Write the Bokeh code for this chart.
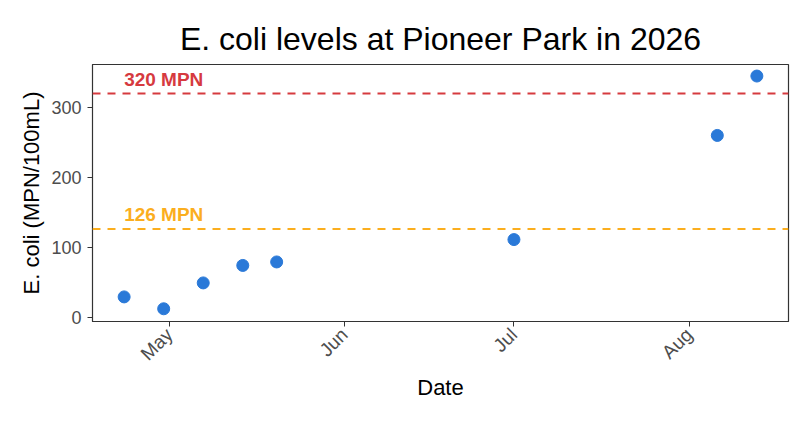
import math
from datetime import datetime
from bokeh.plotting import figure
from bokeh.models import Range1d, FixedTicker, Span, Label, ColumnDataSource
from bokeh.embed import file_html
from bokeh.resources import INLINE

# ---- data ----
sample_dates = ["2026-04-23", "2026-04-30", "2026-05-07", "2026-05-14",
                "2026-05-20", "2026-07-01", "2026-08-06", "2026-08-13"]
ecoli_values = [29, 12, 49, 74, 79, 111, 260, 345]

threshold_values = [320, 126]
threshold_labels = ["320 MPN", "126 MPN"]
threshold_colors = ["#D63A3F", "#FBAE1E"]

x_tick_dates = ["2026-05-01", "2026-06-01", "2026-07-01", "2026-08-01"]
x_tick_labels = ["May", "Jun", "Jul", "Aug"]
y_ticks = [0, 100, 200, 300]

title_text = "E. coli levels at Pioneer Park in 2026"
x_label = "Date"
y_label = "E. coli (MPN/100mL)"


def to_ms(s):
    return (datetime.strptime(s, "%Y-%m-%d") - datetime(1970, 1, 1)).total_seconds() * 1000.0


xs = [to_ms(d) for d in sample_dates]
span_x = max(xs) - min(xs)
x_start = min(xs) - 0.05 * span_x
x_end = max(xs) + 0.05 * span_x
y_start, y_end = -6.2, 361.5

FONT = "Liberation Sans"

p = figure(width=796, height=406, x_axis_type="datetime",
           output_backend="svg", toolbar_location=None,
           x_range=Range1d(x_start, x_end), y_range=Range1d(y_start, y_end),
           min_border_left=92, min_border_right=8,
           min_border_top=64, min_border_bottom=85)

p.title.text = title_text
p.title.text_font = FONT
p.title.text_font_size = "32px"
p.title.text_font_style = "normal"
p.title.text_color = "#000000"
p.title.align = "center"
p.title.standoff = 15

p.background_fill_color = "white"
p.border_fill_color = "white"
p.outline_line_color = "#333333"
p.outline_line_width = 1.2
p.xgrid.visible = False
p.ygrid.visible = False

tick_ms = [to_ms(d) for d in x_tick_dates]
p.xaxis.ticker = FixedTicker(ticks=tick_ms)
p.xaxis.major_label_overrides = {t: l for t, l in zip(tick_ms, x_tick_labels)}
p.xaxis.major_label_orientation = math.pi / 4
p.yaxis.ticker = FixedTicker(ticks=y_ticks)

for ax in (p.xaxis, p.yaxis):
    ax.axis_line_color = "#333333"
    ax.major_tick_line_color = "#333333"
    ax.major_tick_in = 0
    ax.major_tick_out = 5
    ax.minor_tick_line_color = None
    ax.major_label_text_font = FONT
    ax.major_label_text_font_size = "18px"
    ax.major_label_text_color = "#4D4D4D"
    ax.axis_label_text_font = FONT
    ax.axis_label_text_font_size = "22px"
    ax.axis_label_text_font_style = "normal"
    ax.axis_label_text_color = "#000000"

p.xaxis.major_label_text_font_size = "19px"
p.xaxis.axis_label = x_label
p.yaxis.axis_label = y_label
p.xaxis.major_label_standoff = 5
p.yaxis.major_label_standoff = 6
p.xaxis.axis_label_standoff = 0
p.yaxis.axis_label_standoff = 4

for val, lab, col in zip(threshold_values, threshold_labels, threshold_colors):
    p.add_layout(Span(location=val, dimension="width", line_color=col,
                      line_width=2, line_dash="8 7"))
    p.add_layout(Label(x=min(xs), y=val, text=lab, text_color=col,
                       text_font=FONT, text_font_size="19px",
                       text_font_style="bold", text_align="left",
                       text_baseline="bottom", y_offset=4))

src = ColumnDataSource(data=dict(x=xs, y=ecoli_values))
p.scatter("x", "y", source=src, size=12, fill_color="#2A79D8",
          line_color="#2A79D8")

open("out.html", "w").write(file_html(p, INLINE))
